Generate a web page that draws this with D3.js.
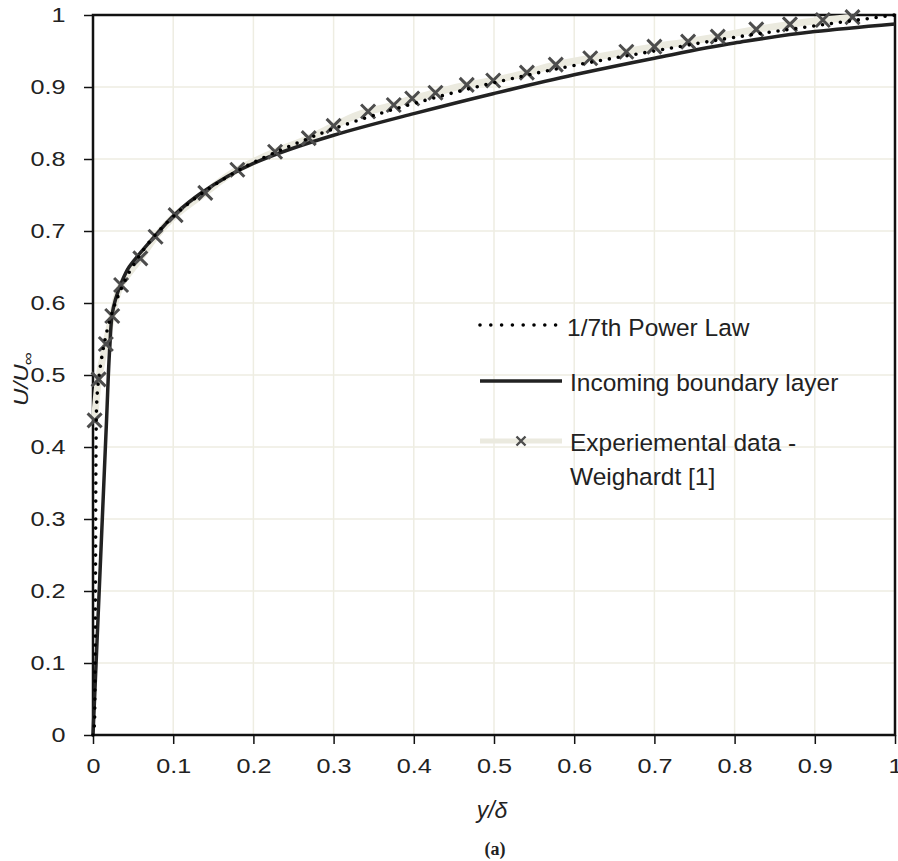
<html>
<head>
  <meta charset="utf-8">
  <title>Boundary layer profile</title>
  <script src="https://d3js.org/d3.v7.min.js"></script>
  <style>
    body { margin: 0; background: #fff; }
    text { font-family: "Liberation Sans", Arial, sans-serif; fill: #222; }
  </style>
</head>
<body>
  <script>
    // 1/7th power law (dotted)
    const powerX = [0, 0.002, 0.003, 0.004, 0.005, 0.01, 0.02, 0.03, 0.05, 0.075, 0.1, 0.15, 0.2, 0.25, 0.3, 0.4, 0.5, 0.6, 0.7, 0.8, 0.9, 1.0];
    const powerY = [0, 0.02, 0.2, 0.43, 0.469, 0.518, 0.572, 0.606, 0.652, 0.691, 0.72, 0.763, 0.795, 0.82, 0.842, 0.877, 0.906, 0.93, 0.95, 0.969, 0.985, 1.0];

    // incoming boundary layer (solid)
    const incomingX = [0, 0.017, 0.021, 0.024, 0.028, 0.035, 0.045, 0.057, 0.078, 0.103, 0.134, 0.2, 0.3, 0.4, 0.5, 0.6, 0.7, 0.8, 0.9, 1.0];
    const incomingY = [0, 0.44, 0.54, 0.585, 0.605, 0.627, 0.65, 0.667, 0.694, 0.724, 0.752, 0.794, 0.833, 0.863, 0.891, 0.917, 0.94, 0.961, 0.977, 0.9875];

    // experimental data - Weighardt [1]
    const expX = [0.002, 0.007, 0.016, 0.024, 0.035, 0.059, 0.078, 0.103, 0.14, 0.18, 0.227, 0.269, 0.3, 0.343, 0.375, 0.398, 0.427, 0.466, 0.499, 0.541, 0.577, 0.62, 0.665, 0.7, 0.742, 0.779, 0.827, 0.869, 0.91, 0.947];
    const expY = [0.437, 0.494, 0.543, 0.582, 0.625, 0.662, 0.692, 0.722, 0.753, 0.785, 0.81, 0.829, 0.846, 0.866, 0.875, 0.884, 0.892, 0.903, 0.909, 0.92, 0.931, 0.94, 0.949, 0.956, 0.963, 0.97, 0.98, 0.987, 0.993, 0.997];

    const ticks = [0, 0.1, 0.2, 0.3, 0.4, 0.5, 0.6, 0.7, 0.8, 0.9, 1];
    const legendLabels = ["1/7th Power Law", "Incoming boundary layer", ["Experiemental data -", "Weighardt [1]"]];

    var width = 898, height = 861;
    var margin = {left: 93, top: 15, right: 3, bottom: 126};
    var w = width - margin.left - margin.right;
    var h = height - margin.top - margin.bottom;

    var svg = d3.select('body').append('svg')
      .attr('width', width)
      .attr('height', height);

    var x = d3.scaleLinear().domain([0, 1]).range([margin.left, margin.left + w]);
    var y = d3.scaleLinear().domain([0, 1]).range([margin.top + h, margin.top]);

    var zip = (xs, ys) => xs.map((v, i) => [v, ys[i]]);

    // grid
    var grid = svg.append('g').attr('stroke', '#eeede2').attr('stroke-width', 1.5);
    grid.selectAll('.gx').data(ticks.slice(1, -1)).enter().append('line')
      .attr('x1', d => x(d)).attr('x2', d => x(d))
      .attr('y1', y(0)).attr('y2', y(1));
    grid.selectAll('.gy').data(ticks.slice(1, -1)).enter().append('line')
      .attr('y1', d => y(d)).attr('y2', d => y(d))
      .attr('x1', x(0)).attr('x2', x(1));

    // axes
    var fmt = d => d === 0 || d === 1 ? String(d) : d3.format('.1f')(d);
    var xAxis = svg.append('g')
      .attr('transform', 'translate(0,' + y(0) + ')')
      .call(d3.axisBottom(x).tickValues(ticks).tickFormat(fmt).tickSize(9).tickPadding(14));
    var yAxis = svg.append('g')
      .attr('transform', 'translate(' + x(0) + ',0)')
      .call(d3.axisLeft(y).tickValues(ticks).tickFormat(fmt).tickSize(9).tickPadding(14));
    [xAxis, yAxis].forEach(a => {
      a.select('.domain').remove();
      a.selectAll('line').attr('stroke', '#111').attr('stroke-width', 1.5);
      a.selectAll('text').attr('font-size', 21).attr('fill', '#222')
        .attr('font-family', '"Liberation Sans", Arial, sans-serif')
        .attr('transform', 'scale(1.2,1)');
    });

    // frame
    svg.append('rect')
      .attr('x', x(0)).attr('y', y(1))
      .attr('width', x(1) - x(0)).attr('height', y(0) - y(1))
      .attr('fill', 'none').attr('stroke', '#111').attr('stroke-width', 2.5);

    var line = d3.line().x(d => x(d[0])).y(d => y(d[1])).curve(d3.curveMonotoneY);

    // experimental band
    svg.append('path')
      .attr('d', line(zip(expX, expY)))
      .attr('fill', 'none').attr('stroke', '#ebeadf').attr('stroke-width', 7);

    // incoming boundary layer
    svg.append('path')
      .attr('d', line(zip(incomingX, incomingY)))
      .attr('fill', 'none').attr('stroke', '#222').attr('stroke-width', 3.5);

    // markers
    var xMark = 'M-7,-7L7,7M-7,7L7,-7';
    svg.append('g').selectAll('path')
      .data(zip(expX, expY)).enter().append('path')
      .attr('transform', d => 'translate(' + x(d[0]) + ',' + y(d[1]) + ')')
      .attr('d', xMark)
      .attr('stroke', '#4d4d4d').attr('stroke-width', 3).attr('fill', 'none');

    // power law
    svg.append('path')
      .attr('d', line(zip(powerX, powerY)))
      .attr('fill', 'none').attr('stroke', '#000').attr('stroke-width', 3.6)
      .attr('stroke-linecap', 'round').attr('stroke-dasharray', '0,9');

    // legend
    var lg = svg.append('g');
    lg.append('line').attr('x1', 480).attr('x2', 556).attr('y1', 325).attr('y2', 325)
      .attr('stroke', '#000').attr('stroke-width', 3.6)
      .attr('stroke-linecap', 'round').attr('stroke-dasharray', '0,10.8');
    lg.append('line').attr('x1', 480).attr('x2', 562).attr('y1', 381).attr('y2', 381)
      .attr('stroke', '#222').attr('stroke-width', 3.5);
    lg.append('line').attr('x1', 480).attr('x2', 562).attr('y1', 441).attr('y2', 441)
      .attr('stroke', '#ebeadf').attr('stroke-width', 5);
    lg.append('path').attr('transform', 'translate(521,441)')
      .attr('d', 'M-4.5,-4.5L4.5,4.5M-4.5,4.5L4.5,-4.5')
      .attr('stroke', '#4d4d4d').attr('stroke-width', 2.4);

    var lfs = 24.5;
    lg.append('text').attr('x', 567).attr('y', 336).attr('font-size', lfs).text(legendLabels[0]);
    lg.append('text').attr('x', 570).attr('y', 391).attr('font-size', lfs).text(legendLabels[1]);
    lg.append('text').attr('x', 570).attr('y', 451).attr('font-size', lfs).text(legendLabels[2][0]);
    lg.append('text').attr('x', 570).attr('y', 485).attr('font-size', lfs).text(legendLabels[2][1]);

    // axis titles
    svg.append('text')
      .attr('x', 492).attr('y', 818)
      .attr('text-anchor', 'middle').attr('font-size', 23).attr('font-style', 'italic')
      .text('y/δ');
    var yl = svg.append('text')
      .attr('transform', 'translate(28,406) rotate(-90) scale(1.1,0.9)')
      .attr('font-size', 22).attr('font-style', 'italic');
    yl.append('tspan').text('U/U');
    yl.append('tspan').attr('dx', -1).attr('dy', 5).attr('font-size', 17).attr('font-style', 'normal').text('∞');

    svg.append('text')
      .attr('x', 495).attr('y', 855)
      .attr('text-anchor', 'middle').attr('font-size', 18).attr('font-weight', 'bold')
      .style('font-family', '"Liberation Serif", "Times New Roman", serif')
      .text('(a)');
  </script>
</body>
</html>
